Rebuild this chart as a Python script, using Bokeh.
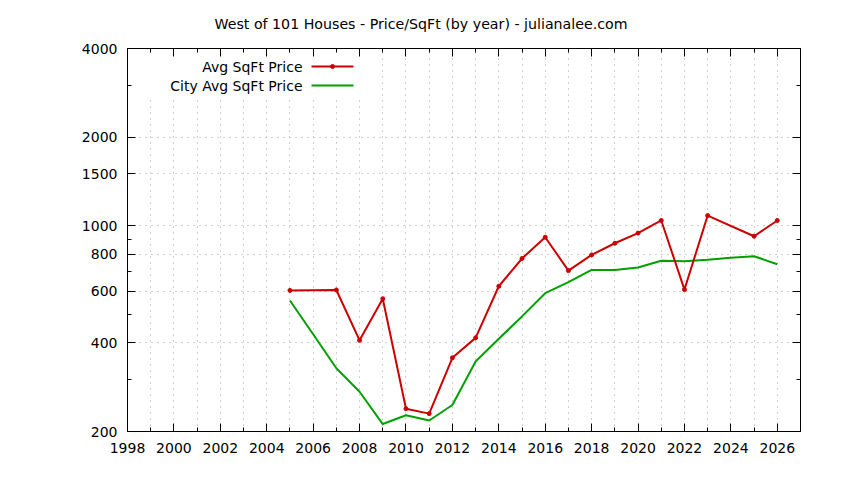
import math
from bokeh.plotting import figure
from bokeh.models import (FixedTicker, LogAxis, LinearAxis, Label, BoxAnnotation,
                          PrintfTickFormatter, Range1d)
from bokeh.embed import file_html
from bokeh.resources import INLINE

# ---------------- data ----------------
title_text = "West of 101 Houses - Price/SqFt (by year) - julianalee.com"
series_avg_name = "Avg SqFt Price"
series_city_name = "City Avg SqFt Price"

avg_years = [2005, 2007, 2008, 2009, 2010, 2011, 2012, 2013, 2014, 2015, 2016,
             2017, 2018, 2019, 2020, 2021, 2022, 2023, 2025, 2026]
avg_price = [603, 605, 408, 565, 239, 230, 356, 416, 623, 774, 914,
             704, 796, 872, 944, 1042, 607, 1083, 921, 1042]

city_years = [2005, 2006, 2007, 2008, 2009, 2010, 2011, 2012, 2013, 2014, 2015,
              2016, 2017, 2018, 2019, 2020, 2021, 2022, 2023, 2024, 2025, 2026]
city_price = [557, 428, 328, 273, 212, 227, 218, 246, 346, 413, 492,
              590, 643, 708, 708, 721, 760, 758, 766, 778, 788, 740]

x_major_ticks = [1998, 2000, 2002, 2004, 2006, 2008, 2010, 2012, 2014, 2016,
                 2018, 2020, 2022, 2024, 2026]
x_minor_ticks = [1999, 2001, 2003, 2005, 2007, 2009, 2011, 2013, 2015, 2017,
                 2019, 2021, 2023, 2025, 2027]
y_major_ticks = [200, 400, 600, 800, 1000, 1500, 2000, 4000]
y_minor_ticks = [300, 500, 700, 900, 3000]

# ---------------- layout ----------------
W, H = 828, 464
BL, BT = 127, 48
BR, BB = W - 800, H - 431
X0, X1 = 1998, 2027
Y0, Y1 = 200, 4000
FONT = "DejaVu Sans"
FS = "14px"
RED = "#cc0000"
GREEN = "#00a000"
GRID = "#a0a0a0"

fw = W - BL - BR
fh = H - BT - BB


def px_to_data(px, py):
    """canvas pixel (from top-left) -> data coordinates"""
    x = X0 + (px - BL) / fw * (X1 - X0)
    ly = math.log10(Y1) - (py - BT) / fh * (math.log10(Y1) - math.log10(Y0))
    return x, 10 ** ly


p = figure(width=W, height=H, x_range=Range1d(X0, X1), y_range=Range1d(Y0, Y1),
           y_axis_type="log", output_backend="svg", toolbar_location=None,
           min_border_left=BL, min_border_right=BR, min_border_top=BT,
           min_border_bottom=BB)
p.background_fill_color = "white"
p.border_fill_color = "white"
p.outline_line_color = "black"
p.outline_line_width = 1

p.title.text = title_text
p.title.align = "left"
p.title.offset = 87
p.title.standoff = 29
p.title.vertical_align = "top"
p.title.text_font = FONT
p.title.text_font_size = "14.2px"
p.title.text_font_style = "normal"
p.title.text_color = "black"

xt = FixedTicker(ticks=x_major_ticks, minor_ticks=x_minor_ticks)
yt = FixedTicker(ticks=y_major_ticks, minor_ticks=y_minor_ticks)


def style_axis(ax, standoff):
    ax.axis_line_color = "black"
    ax.major_tick_line_color = "black"
    ax.minor_tick_line_color = "black"
    ax.major_tick_in = 8
    ax.major_tick_out = 0
    ax.minor_tick_in = 4
    ax.minor_tick_out = 0
    ax.major_label_text_font = FONT
    ax.major_label_text_font_size = FS
    ax.major_label_text_color = "black"
    ax.major_label_standoff = standoff


p.xaxis.ticker = xt
p.xaxis.formatter = PrintfTickFormatter(format="%d")
style_axis(p.xaxis[0], 11)
p.yaxis.ticker = yt
p.yaxis.formatter = PrintfTickFormatter(format="%d")
style_axis(p.yaxis[0], 10)

# mirrored tick axes (no labels)
top_ax = LinearAxis(ticker=xt)
style_axis(top_ax, 0)
top_ax.major_label_overrides = {t: "" for t in x_major_ticks}
p.add_layout(top_ax, "above")
right_ax = LogAxis(ticker=yt)
style_axis(right_ax, 0)
right_ax.major_label_overrides = {t: "" for t in y_major_ticks}
p.add_layout(right_ax, "right")

p.xgrid.ticker = xt
p.xgrid.grid_line_color = GRID
p.xgrid.grid_line_dash = "1 5"
p.xgrid.minor_grid_line_color = GRID
p.xgrid.minor_grid_line_dash = "1 5"
p.ygrid.ticker = yt
p.ygrid.grid_line_color = GRID
p.ygrid.grid_line_dash = "1 5"
p.ygrid.minor_grid_line_color = None

# legend background (hides grid like gnuplot key)
bx0, by0 = px_to_data(BL, BT)
bx1, by1 = px_to_data(362, 96)
p.add_layout(BoxAnnotation(left=bx0, right=bx1, top=by0, bottom=by1,
                           fill_color="white", fill_alpha=1.0,
                           line_color=None, level="underlay"))

# data
p.line(city_years, city_price, line_color=GREEN, line_width=2)
p.line(avg_years, avg_price, line_color=RED, line_width=2)
p.scatter(avg_years, avg_price, size=4, color=RED)

# legend (gnuplot style: text right-justified, sample on right)
lx_text, _ = px_to_data(302, 0)
ls0, _ = px_to_data(311, 0)
ls1, _ = px_to_data(353, 0)
lsm, _ = px_to_data(332, 0)
_, ly1 = px_to_data(0, 66)
_, ly2 = px_to_data(0, 85)
for name, ly, col, mark in [(series_avg_name, ly1, RED, True),
                            (series_city_name, ly2, GREEN, False)]:
    p.add_layout(Label(x=lx_text, y=ly, text=name, text_align="right",
                       text_baseline="middle", text_font=FONT,
                       text_font_size=FS, text_color="black"))
    p.line([ls0, ls1], [ly, ly], line_color=col, line_width=2)
    if mark:
        p.scatter([lsm], [ly], size=4, color=col)

open("out.html", "w").write(file_html(p, INLINE))
